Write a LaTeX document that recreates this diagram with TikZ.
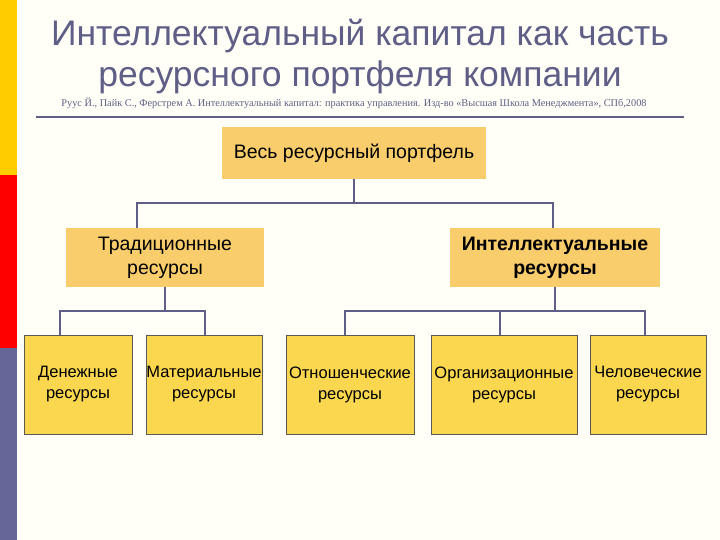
\documentclass[tikz,border=0pt]{standalone}
\usepackage{fontspec}
\setmainfont{Liberation Sans}
\newfontfamily\citefont{Liberation Serif}
\definecolor{ink}{HTML}{5E5E86}
\definecolor{boxA}{HTML}{F9CD6B}
\definecolor{boxB}{HTML}{FAD74F}
\definecolor{barY}{HTML}{FFCC00}
\definecolor{barR}{HTML}{FF0000}
\definecolor{barP}{HTML}{666699}
\begin{document}
\begin{tikzpicture}[x=1pt,y=-1pt,
  upbox/.style={fill=boxA,inner sep=0pt,align=center,font=\fontsize{19.5}{24}\selectfont},
  lowbox/.style={fill=boxB,draw=gray!70!black,line width=0.6pt,inner sep=0pt,align=center,font=\fontsize{16.5}{21}\selectfont},
  conn/.style={draw=ink,line width=2.2pt}]
\useasboundingbox (0,0) rectangle (720,540);
\fill[white!97!yellow] (0,0) rectangle (720,540);
\fill[barY] (0,0) rectangle (17,175);
\fill[barR] (0,175) rectangle (17,348);
\fill[barP] (0,348) rectangle (17,540);
\node[text=ink,align=center,font=\fontsize{35.5}{41}\selectfont] (title) at (360,57) {Интеллектуальный капитал как часть\\ресурсного портфеля компании};
\node[text=ink,font=\citefont\fontsize{10.3}{12}\selectfont,inner sep=0pt] (cite) at (354,103) {Руус Й., Пайк С., Ферстрем А. Интеллектуальный капитал: практика управления. Изд-во «Высшая Школа Менеджмента», СПб,2008};
\draw[ink,line width=1.5pt] (36,117) -- (684,117);
\node[upbox,minimum width=264,minimum height=52] (top) at (354,153) {Весь ресурсный портфель};
\node[upbox,minimum width=198,minimum height=59] (trad) at (165,257.5) {Традиционные\\ресурсы};
\node[upbox,minimum width=210,minimum height=59,font=\bfseries\fontsize{19.5}{24}\selectfont] (intel) at (555,257.5) {Интеллектуальные\\ресурсы};
\node[lowbox,minimum width=108,minimum height=99] (den) at (78,384.5) {Денежные\\ресурсы};
\node[lowbox,minimum width=116,minimum height=99] (mat) at (204,384.5) {Материальные\\ресурсы};
\node[lowbox,minimum width=128,minimum height=99] (otn) at (350,384.5) {Отношенческие\\ресурсы};
\node[lowbox,minimum width=146,minimum height=99] (org) at (504,384.5) {Организационные\\ресурсы};
\node[lowbox,minimum width=116,minimum height=99] (che) at (648,384.5) {Человеческие\\ресурсы};
\coordinate (b1) at (354,203);
\coordinate (b2) at (165,311);
\coordinate (b3) at (555,311);
\draw[conn] (top.south) -- (b1);
\draw[conn] (137,228) -- (137,203) -- (553,203) -- (553,228);
\draw[conn] (trad.south) -- (b2);
\draw[conn] (60,335) -- (60,311) -- (205,311) -- (205,335);
\draw[conn] (intel.south) -- (b3);
\draw[conn] (345,335) -- (345,311) -- (645,311) -- (645,335);
\draw[conn] (500,335) -- (500,311);
\end{tikzpicture}
\end{document}
